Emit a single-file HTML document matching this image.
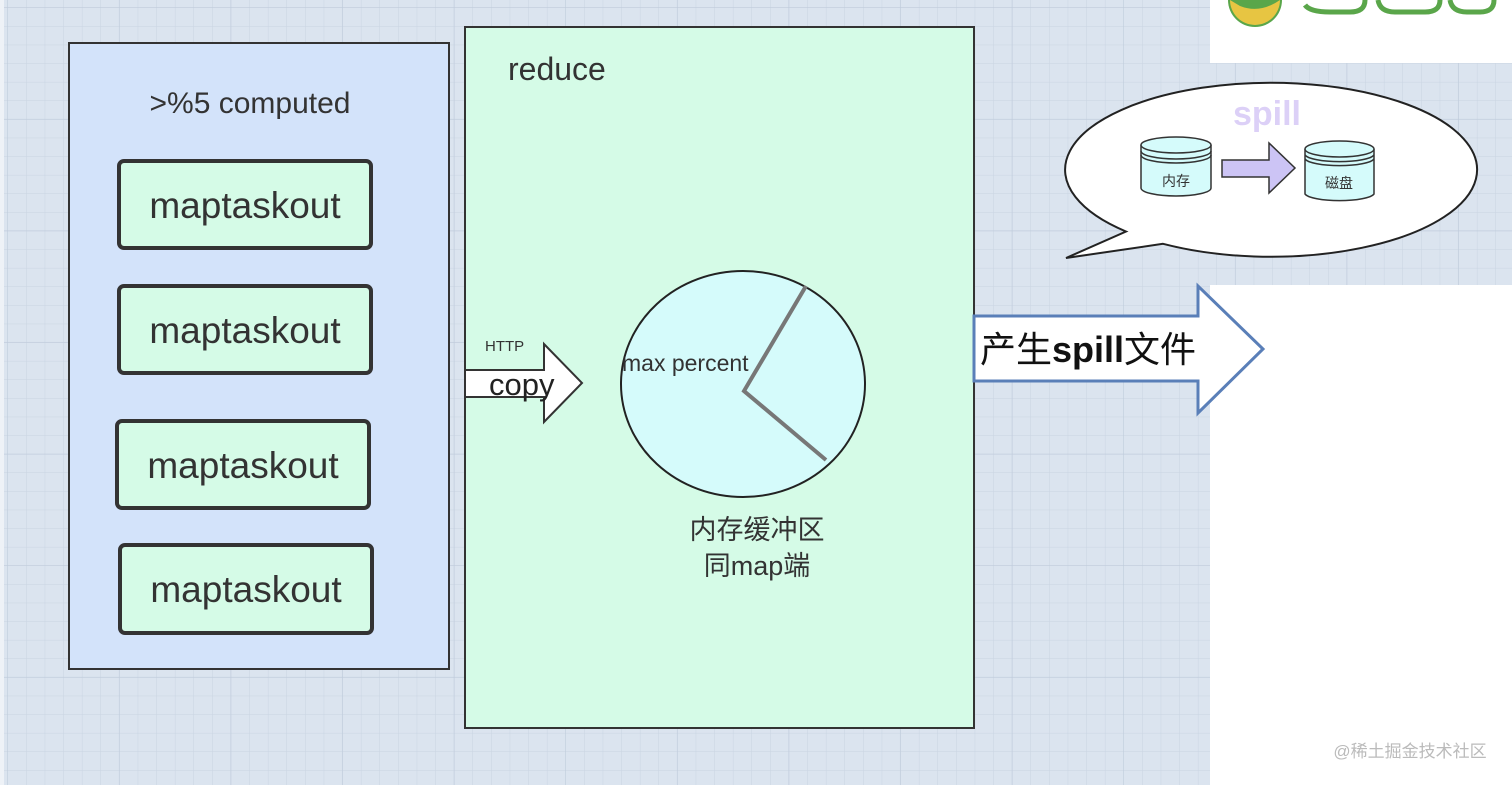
<!DOCTYPE html>
<html><head><meta charset="utf-8"><style>
html,body{margin:0;padding:0;width:1512px;height:785px;overflow:hidden;background:#dbe4ef}
svg{display:block}
text{font-family:"Liberation Sans","Noto Sans CJK SC",sans-serif}
</style></head><body>
<svg width="1512" height="785" viewBox="0 0 1512 785" xmlns="http://www.w3.org/2000/svg">
<defs>
<pattern id="g" x="8" y="8" width="18.6" height="18.6" patternUnits="userSpaceOnUse">
<path d="M18.6 0V18.6M0 18.6H18.6" stroke="#c9d4e2" stroke-width="1" fill="none"/>
</pattern>
<pattern id="G" x="8" y="8" width="111.6" height="111.6" patternUnits="userSpaceOnUse">
<path d="M111.6 0V111.6M0 111.6H111.6" stroke="#bfcbdb" stroke-width="1.2" fill="none"/>
</pattern>
</defs>
<rect width="1512" height="785" fill="#dbe4ef"/>
<rect width="1512" height="785" fill="url(#g)"/>
<rect width="1512" height="785" fill="url(#G)"/>
<rect x="0" y="0" width="4" height="785" fill="#eef2f7"/>

<!-- left box -->
<rect x="69" y="43" width="380" height="626" fill="#d3e3fa" stroke="#333" stroke-width="2"/>
<text x="250" y="113" font-size="30" fill="#333" text-anchor="middle">&gt;%5 computed</text>
<g fill="#d5fbe7" stroke="#333" stroke-width="4">
<rect x="119" y="161" width="252" height="87" rx="5"/>
<rect x="119" y="286" width="252" height="87" rx="5"/>
<rect x="117" y="421" width="252" height="87" rx="5"/>
<rect x="120" y="545" width="252" height="88" rx="5"/>
</g>
<g font-size="37" fill="#333" text-anchor="middle">
<text x="245" y="218">maptaskout</text>
<text x="245" y="343">maptaskout</text>
<text x="243" y="478">maptaskout</text>
<text x="246" y="602">maptaskout</text>
</g>

<!-- reduce box -->
<rect x="465" y="27" width="509" height="701" fill="#d5fbe7" stroke="#333" stroke-width="2"/>
<text x="508" y="80" font-size="32" fill="#333">reduce</text>

<!-- copy arrow -->
<polygon points="465,370 544,370 544,344 582,383 544,422 544,397 465,397" fill="#fff" stroke="#333" stroke-width="2"/>
<text x="485" y="351" font-size="15" fill="#333">HTTP</text>
<text x="489" y="395" font-size="31" fill="#222">copy</text>

<!-- circle -->
<ellipse cx="743" cy="384" rx="122" ry="113" fill="#d5fbfb" stroke="#222" stroke-width="2"/>
<polyline points="806,286 744,391 826,460" fill="none" stroke="#777" stroke-width="4"/>
<text x="622" y="371" font-size="23" fill="#333">max percent</text>
<text x="757" y="539" font-size="27" fill="#333" text-anchor="middle">内存缓冲区</text>
<text x="757" y="575" font-size="27" fill="#333" text-anchor="middle">同map端</text>

<!-- white areas -->
<rect x="1210" y="285" width="302" height="500" fill="#fff"/>
<rect x="1210" y="0" width="302" height="63" fill="#fff"/>
<circle cx="1255" cy="0" r="27" fill="#5aa64a"/>
<path d="M1230 0 A25 25 0 0 0 1280 0 Q1260 14 1240 6 Z" fill="#e7c542"/>
<path d="M1305 5 Q1310 12 1330 12 L1350 12 Q1365 12 1365 0" fill="none" stroke="#5aa64a" stroke-width="5"/>
<path d="M1378 0 Q1380 12 1395 12 L1425 12 Q1440 12 1440 0" fill="none" stroke="#5aa64a" stroke-width="5"/>
<path d="M1450 0 Q1452 12 1467 12 L1480 12 Q1494 12 1494 0" fill="none" stroke="#5aa64a" stroke-width="5"/>
<text x="1410" y="757" font-size="17" fill="#bbb" text-anchor="middle">@稀土掘金技术社区</text>

<!-- spill arrow -->
<polygon points="974,316 1198,316 1198,286 1263,349 1198,413 1198,381 974,381" fill="#fff" stroke="#5a7fb8" stroke-width="3"/>
<text x="980" y="362" font-size="36" fill="#111">产生<tspan font-weight="bold">spill</tspan>文件</text>

<!-- bubble -->
<path d="M1163 243.8 A206 87 0 1 0 1126 231.5 L1066 258 Z" fill="#fff" stroke="#222" stroke-width="2"/>
<text x="1267" y="125" font-size="34" fill="#dcd0f7" text-anchor="middle" font-weight="bold">spill</text>
<g stroke="#333" stroke-width="1.5" fill="#d5fbfb">
<path d="M1141 145 V188 A35 8 0 0 0 1211 188 V145"/>
<ellipse cx="1176" cy="145" rx="35" ry="8"/>
<path d="M1141 151 A35 8 0 0 0 1211 151 M1141 155 A35 8 0 0 0 1211 155" fill="none"/>
<path d="M1305 149 V194 A35 8 0 0 0 1374 194 V149"/>
<ellipse cx="1339.5" cy="149" rx="34.5" ry="8"/>
<path d="M1305 155 A35 8 0 0 0 1374 155 M1305 159 A35 8 0 0 0 1374 159" fill="none"/>
</g>
<polygon points="1222,160 1269,160 1269,143 1295,168 1269,193 1269,177 1222,177" fill="#ccc4f5" stroke="#333" stroke-width="1.5"/>
<text x="1176" y="186" font-size="14" fill="#333" text-anchor="middle">内存</text>
<text x="1339" y="188" font-size="14" fill="#333" text-anchor="middle">磁盘</text>
</svg>
</body></html>
